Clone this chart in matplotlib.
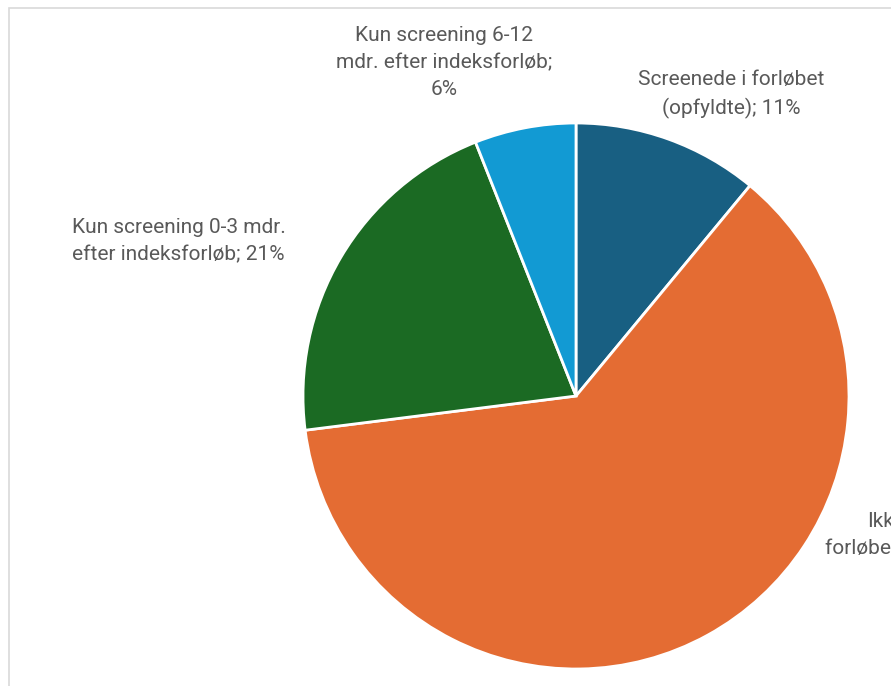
import matplotlib
matplotlib.use("Agg")
import matplotlib.pyplot as plt
from matplotlib.patches import Rectangle

# shares of patients by screening status
labels = ["Screenede i forløbet\n(opfyldte); 11%",
          "Ikke\nforløbet; 62%",
          "Kun screening 0-3 mdr.\nefter indeksforløb; 21%",
          "Kun screening 6-12\nmdr. efter indeksforløb;\n6%"]
values = [11, 62, 21, 6]
colors = ["#185f82", "#e46c33", "#1b6a23", "#129ad3"]

# label centres in axes data units (pie radius = 1)
label_pos = [(0.57, 1.103), (1.135, -0.51), (-1.456, 0.566), (-0.482, 1.221)]

plt.rcParams["font.family"] = ["Roboto", "DejaVu Sans"]

fig = plt.figure(figsize=(8.91, 6.86), dpi=100)
fig.patches.append(Rectangle((9 / 891, -0.1), 1.2, 1 - 8 / 686 + 0.1,
                             transform=fig.transFigure, fill=False,
                             edgecolor="#d9d9d9", linewidth=1.2))

ax = fig.add_axes([(576 - 273) / 891, (686 - 669) / 686, 546 / 891, 546 / 686])
ax.pie(values, colors=colors, startangle=90, counterclock=False,
       radius=1, wedgeprops=dict(edgecolor="white", linewidth=2))
ax.set_xlim(-1, 1)
ax.set_ylim(-1, 1)
ax.set_aspect("equal")
ax.axis("off")

for txt, (x, y) in zip(labels, label_pos):
    ax.text(x, y, txt, ha="center", va="center", fontsize=15,
            color="#595959", linespacing=1.55, clip_on=False)

fig.savefig("out.png", dpi=100)
